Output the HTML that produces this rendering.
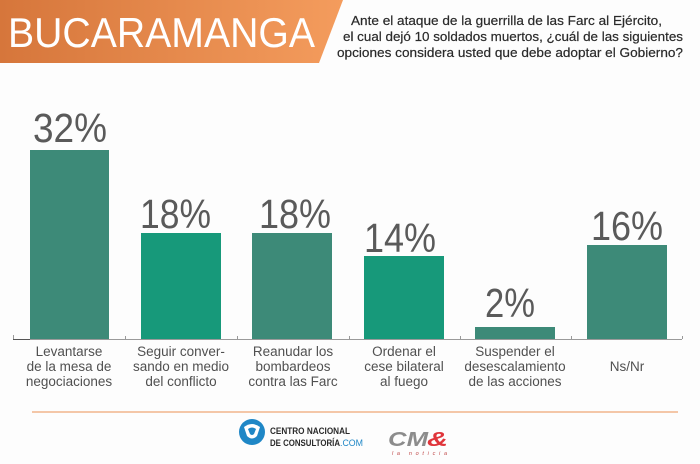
<!DOCTYPE html>
<html><head><meta charset="utf-8"><style>
html,body{margin:0;padding:0;background:#fdfdfd;}
svg{display:block;}
text{font-family:"Liberation Sans",sans-serif;}
</style></head><body>
<svg width="700" height="464" viewBox="0 0 700 464" xmlns="http://www.w3.org/2000/svg">
<defs>
<linearGradient id="og" x1="0" x2="1" y1="0" y2="0">
<stop offset="0" stop-color="#d6763b"/>
<stop offset="1" stop-color="#f49c5d"/>
</linearGradient>
</defs>
<rect width="700" height="464" fill="#fdfdfd"/>
<polygon points="0,0 343,0 319,63 0,63" fill="url(#og)"/>
<text x="8" y="47" font-size="42" fill="#ffffff" textLength="307" lengthAdjust="spacingAndGlyphs">BUCARAMANGA</text>

<g font-size="13" fill="#2a2a2a" stroke="#2a2a2a" stroke-width="0.2">
<text x="351" y="25" textLength="311" lengthAdjust="spacingAndGlyphs">Ante el ataque de la guerrilla de las Farc al Ejército,</text>
<text x="343" y="41" textLength="340" lengthAdjust="spacingAndGlyphs">el cual dejó 10 soldados muertos, ¿cuál de las siguientes</text>
<text x="337" y="57" textLength="346" lengthAdjust="spacingAndGlyphs">opciones considera usted que debe adoptar el Gobierno?</text>
</g>

<!-- bars -->
<rect x="30" y="150" width="79" height="189" fill="#3d8a78"/>
<rect x="141" y="233" width="80" height="106" fill="#17997a"/>
<rect x="252" y="233" width="80" height="106" fill="#3d8a78"/>
<rect x="364" y="256" width="80" height="83" fill="#17997a"/>
<rect x="475" y="327" width="80" height="12" fill="#3d8a78"/>
<rect x="587" y="245" width="80" height="94" fill="#3d8a78"/>

<!-- axis -->
<g stroke="#9a9a9a" stroke-width="1">
<line x1="13" y1="339.5" x2="682" y2="339.5"/>
<line x1="13.5" y1="335" x2="13.5" y2="339"/>
<line x1="125.5" y1="336" x2="125.5" y2="339"/>
<line x1="237.5" y1="336" x2="237.5" y2="339"/>
<line x1="349.5" y1="336" x2="349.5" y2="339"/>
<line x1="460.5" y1="336" x2="460.5" y2="339"/>
<line x1="571.5" y1="336" x2="571.5" y2="339"/>
<line x1="682.5" y1="336" x2="682.5" y2="339"/>
</g>
<line x1="13" y1="339.5" x2="30" y2="339.5" stroke="#555" stroke-width="1"/>

<!-- values -->
<g font-size="41" fill="#5a5a5a">
<text x="33" y="142" textLength="74" lengthAdjust="spacingAndGlyphs">32%</text>
<text x="140" y="228" textLength="71" lengthAdjust="spacingAndGlyphs">18%</text>
<text x="259" y="228" textLength="72" lengthAdjust="spacingAndGlyphs">18%</text>
<text x="364" y="252" textLength="72" lengthAdjust="spacingAndGlyphs">14%</text>
<text x="485" y="317" textLength="50" lengthAdjust="spacingAndGlyphs">2%</text>
<text x="591" y="240" textLength="72" lengthAdjust="spacingAndGlyphs">16%</text>
</g>

<!-- categories -->
<g font-size="13.5" fill="#505050" text-anchor="middle">
<text x="69" y="356">Levantarse</text>
<text x="69" y="371">de la mesa de</text>
<text x="69" y="386">negociaciones</text>
<text x="181" y="356">Seguir conver-</text>
<text x="181" y="371">sando en medio</text>
<text x="181" y="386">del conflicto</text>
<text x="293" y="356">Reanudar los</text>
<text x="293" y="371">bombardeos</text>
<text x="293" y="386">contra las Farc</text>
<text x="404" y="356">Ordenar el</text>
<text x="404" y="371">cese bilateral</text>
<text x="404" y="386">al fuego</text>
<text x="515" y="356">Suspender el</text>
<text x="515" y="371">desescalamiento</text>
<text x="515" y="386">de las acciones</text>
<text x="627" y="371">Ns/Nr</text>
</g>

<!-- orange rule -->
<line x1="32" y1="412" x2="678" y2="412" stroke="#f2b58c" stroke-width="1.5"/>

<!-- logo CNC -->
<circle cx="252" cy="432" r="13" fill="#1f87c6"/>
<path d="M244,427 Q252,421 260,427 L257,436 Q252,441 247,436 Z" fill="#ffffff"/>
<path d="M248,429 Q252,426 256,429 L254,434 Q252,436 250,434 Z" fill="#1f87c6"/>
<text x="270" y="434" font-size="9.5" font-weight="bold" fill="#2a2a2a" textLength="80" lengthAdjust="spacingAndGlyphs">CENTRO NACIONAL</text>
<text x="270" y="446" font-size="9.5" font-weight="bold" fill="#2a2a2a" textLength="70" lengthAdjust="spacingAndGlyphs">DE CONSULTORÍA</text>
<text x="340" y="446" font-size="9.5" fill="#1f87c6" textLength="23" lengthAdjust="spacingAndGlyphs">.COM</text>

<!-- CM& -->
<text x="388" y="446" font-size="20" font-weight="bold" font-style="italic" fill="#8c8c8c" textLength="40" lengthAdjust="spacingAndGlyphs">CM</text>
<text x="427" y="446" font-size="20" font-weight="bold" font-style="italic" fill="#e0353b" textLength="21" lengthAdjust="spacingAndGlyphs">&amp;</text>
<text x="392" y="455" font-size="5.5" font-style="italic" fill="#c04a4a" textLength="55" lengthAdjust="spacing">la noticia</text>
</svg>
</body></html>
